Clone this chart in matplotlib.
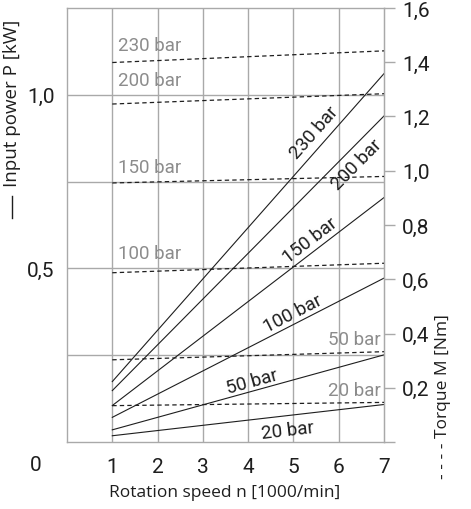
import math

import matplotlib
matplotlib.use("Agg")
import matplotlib.pyplot as plt
from matplotlib.lines import Line2D

plt.rcParams['font.family'] = ['Roboto', 'DejaVu Sans']

pressures = ['20 bar', '50 bar', '100 bar', '150 bar', '200 bar', '230 bar']
speed = [1, 7]  # 1000/min
# input power P [kW] at 1000/min and at 7000/min
power_start = [0.018, 0.035, 0.071, 0.105, 0.148, 0.174]
power_end = [0.108, 0.251, 0.472, 0.704, 0.939, 1.061]
# torque M [Nm] at 1000/min and at 7000/min
torque_start = [0.134, 0.303, 0.624, 0.955, 1.246, 1.399]
torque_end = [0.146, 0.333, 0.659, 0.979, 1.284, 1.442]

x_ticks = [1, 2, 3, 4, 5, 6, 7]
p_grid = [0.25, 0.5, 0.75, 1.0]
p_ticks = [0.5, 1.0]
p_labels = ['0,5', '1,0']
m_ticks = [0, 0.2, 0.4, 0.6, 0.8, 1.0, 1.2, 1.4, 1.6]
m_labels = ['', '0,2', '0,4', '0,6', '0,8', '1,0', '1,2', '1,4', '1,6']

GRID = '#a9a9a9'
LABEL_GREY = '#8c8c8c'
INK = '#1e1e1e'

fig = plt.figure(figsize=(4.71, 5.10), dpi=100)
ax = fig.add_axes([67 / 471, 1 - 443 / 510, 317 / 471, 434 / 510])
ax.set_xlim(0, 7)
ax.set_ylim(0, 1.25)
for s in ax.spines.values():
    s.set_color(GRID)
    s.set_linewidth(1.0)
for x in x_ticks[:-1]:
    ax.axvline(x, color=GRID, lw=1.0, zorder=0)
for p in p_grid:
    ax.axhline(p, color=GRID, lw=1.0, zorder=0)

ax.set_xticks(x_ticks)
ax.set_yticks(p_ticks, p_labels)
ax.tick_params(length=0, pad=11, labelsize=15, colors=INK)
ax.tick_params(axis='y', pad=9)

ax2 = ax.twinx()
ax2.set_ylim(0, 1.6)
ax2.set_yticks(m_ticks, m_labels)
ax2.tick_params(axis='y', length=8, width=1.0, color=GRID, pad=5,
                labelsize=15, labelcolor=INK)
for s in ax2.spines.values():
    s.set_visible(False)
ax2.spines['right'].set_visible(True)
ax2.spines['right'].set_color(GRID)

for ps, pe in zip(power_start, power_end):
    ax.plot(speed, [ps, pe], color=INK, lw=0.8)
for ts, te in zip(torque_start, torque_end):
    ax2.plot(speed, [ts, te], color=INK, lw=0.9, ls=(0, (3.5, 2.5)))

# grey labels of the torque curves
grey_pos = {'230 bar': (1.12, 1.432, 'left'), '200 bar': (1.12, 1.303, 'left'),
            '150 bar': (1.12, 0.982, 'left'), '100 bar': (1.12, 0.664, 'left'),
            '50 bar': (6.92, 0.347, 'right'), '20 bar': (6.92, 0.159, 'right')}
for name in pressures:
    gx, gy, ha = grey_pos[name]
    ax2.text(gx, gy, name, color=LABEL_GREY, fontsize=13.5, ha=ha, va='bottom')

# black labels along the power curves: position on line and vertical offset (px)
black_pos = {'230 bar': (5.47, 20), '200 bar': (6.40, -21), '150 bar': (5.36, 15),
             '100 bar': (4.99, 12), '50 bar': (4.08, 10), '20 bar': (4.88, -14)}
for name, ps, pe in zip(pressures, power_start, power_end):
    xc, dy = black_pos[name]
    a = ax.transData.transform((speed[0], ps))
    b = ax.transData.transform((speed[1], pe))
    ang = math.degrees(math.atan2(b[1] - a[1], b[0] - a[0]))
    yc = ps + (pe - ps) * (xc - speed[0]) / (speed[1] - speed[0])
    ax.annotate(name, xy=(xc, yc), xytext=(0, dy * 0.72), textcoords='offset points',
                rotation=ang, rotation_mode='anchor', ha='center', va='center',
                fontsize=13.5, color=INK)

fig.text(36 / 471, 1 - 466 / 510, '0', fontsize=15, color=INK, ha='center', va='center')
fig.text(225 / 471, 1 - 493 / 510, 'Rotation speed n [1000/min]', fontsize=12.5,
         family=['Open Sans', 'DejaVu Sans'], color=INK, ha='center', va='center')
# solid line marker in front of the power label
fig.add_artist(Line2D([12 / 471, 12 / 471], [1 - 219 / 510, 1 - 197 / 510],
                      color=INK, lw=1.0))
fig.text(12 / 471, 1 - 103 / 510, 'Input power P [kW]', fontsize=13.5, rotation=90,
         family=['Open Sans', 'DejaVu Sans'], color=INK, ha='center', va='center')
fig.text(443 / 471, 1 - 397 / 510, '- - - - Torque M [Nm]', fontsize=12.5, rotation=90,
         family=['Open Sans', 'DejaVu Sans'], color=INK, ha='center', va='center')

fig.savefig('out.png', dpi=100)
